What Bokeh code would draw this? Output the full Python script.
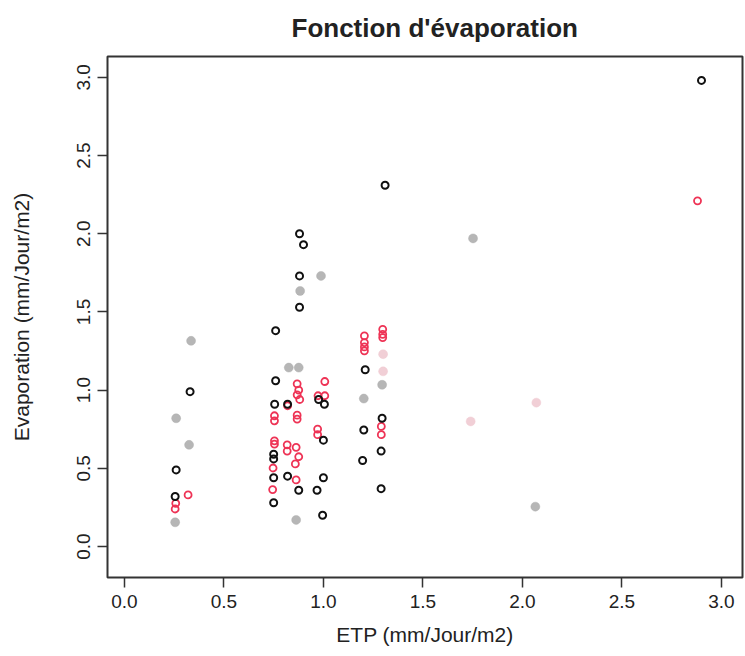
from bokeh.plotting import figure
from bokeh.models import Range1d, FixedTicker
from bokeh.embed import file_html
from bokeh.resources import INLINE

# ---- data ----
black_x = [0.33, 0.26, 0.255, 0.88, 0.90, 0.88, 0.88, 0.76, 0.76, 0.976, 1.005, 0.755,
           0.82, 1.00, 0.75, 0.75, 0.75, 0.82, 1.00, 0.876, 0.968, 0.75, 0.996,
           1.21, 1.295, 1.203, 1.29, 1.197, 1.29, 1.31, 2.90]
black_y = [0.99, 0.49, 0.32, 2.00, 1.93, 1.73, 1.53, 1.38, 1.06, 0.94, 0.91, 0.91,
           0.91, 0.68, 0.59, 0.56, 0.44, 0.45, 0.44, 0.36, 0.36, 0.28, 0.20,
           1.13, 0.82, 0.745, 0.61, 0.55, 0.37, 2.31, 2.98]

red_x = [0.32, 0.258, 0.255, 0.868, 0.876, 0.868, 0.881, 1.007, 0.973, 1.007, 0.82,
         0.868, 0.868, 0.754, 0.754, 0.971, 0.971, 0.754, 0.754, 0.818, 0.818, 0.863,
         0.876, 0.859, 0.747, 0.863, 0.745,
         1.206, 1.206, 1.206, 1.206, 1.298, 1.298, 1.298, 1.291, 1.291, 2.88]
red_y = [0.33, 0.276, 0.24, 1.04, 1.00, 0.97, 0.94, 1.055, 0.964, 0.964, 0.90,
         0.84, 0.815, 0.836, 0.804, 0.751, 0.715, 0.676, 0.655, 0.65, 0.61, 0.634,
         0.574, 0.528, 0.502, 0.426, 0.364,
         1.347, 1.304, 1.276, 1.251, 1.389, 1.357, 1.336, 0.768, 0.715, 2.21]

gray_x = [0.335, 0.26, 0.325, 0.255, 0.988, 0.883, 0.826, 0.876, 0.863, 1.295, 1.203, 1.752, 2.065]
gray_y = [1.315, 0.82, 0.65, 0.155, 1.73, 1.634, 1.144, 1.144, 0.17, 1.034, 0.946, 1.97, 0.255]

pink_x = [1.30, 1.30, 2.07, 1.74]
pink_y = [1.23, 1.12, 0.92, 0.80]

x_ticks = [0.0, 0.5, 1.0, 1.5, 2.0, 2.5, 3.0]
x_tick_labels = ["0.0", "0.5", "1.0", "1.5", "2.0", "2.5", "3.0"]
y_ticks = [0.0, 0.5, 1.0, 1.5, 2.0, 2.5, 3.0]
y_tick_labels = ["0.0", "0.5", "1.0", "1.5", "2.0", "2.5", "3.0"]

title_text = "Fonction d'évaporation"
x_label = "ETP (mm/Jour/m2)"
y_label = "Evaporation (mm/Jour/m2)"

FONT = "Liberation Sans"

p = figure(width=745, height=656, output_backend="svg", toolbar_location=None,
           x_range=Range1d(-0.085, 3.106), y_range=Range1d(-0.198, 3.133),
           min_border_left=107, min_border_right=3, min_border_top=55, min_border_bottom=79,
           background_fill_color="white", border_fill_color="white")

p.title.text = title_text
p.title.text_font = FONT
p.title.text_font_size = "26px"
p.title.text_font_style = "bold"
p.title.text_color = "#222222"
p.title.align = "left"
p.title.offset = 184
p.title.vertical_align = "top"
p.title.standoff = 24

p.grid.grid_line_color = None
p.outline_line_color = "#333333"
p.outline_line_width = 2

for ax, ticks, labels in ((p.xaxis, x_ticks, x_tick_labels), (p.yaxis, y_ticks, y_tick_labels)):
    ax.ticker = FixedTicker(ticks=ticks)
    ax.major_label_overrides = {t: l for t, l in zip(ticks, labels)}
    ax.axis_line_color = None
    ax.major_tick_in = 0
    ax.major_tick_out = 10
    ax.major_tick_line_color = "#333333"
    ax.major_tick_line_width = 1.5
    ax.minor_tick_line_color = None
    ax.major_label_text_font = FONT
    ax.major_label_text_font_size = "19px"
    ax.major_label_text_color = "#222222"
    ax.axis_label_text_font = FONT
    ax.axis_label_text_font_size = "21px"
    ax.axis_label_text_font_style = "normal"
    ax.axis_label_text_color = "#222222"

p.xaxis.axis_label = x_label
p.yaxis.axis_label = y_label
p.xaxis.major_label_standoff = 7
p.xaxis.axis_label_standoff = 12
p.yaxis.major_label_orientation = "vertical"
p.yaxis.major_label_standoff = 7
p.yaxis.axis_label_standoff = 42

# faded (scanned) points
p.scatter(gray_x, gray_y, marker="circle", size=9, fill_color="#7a7a7a", fill_alpha=0.55,
          line_color="#aaaaaa", line_alpha=0.4, line_width=1)
p.scatter(pink_x, pink_y, marker="circle", size=9, fill_color="#e3a0ad", fill_alpha=0.5,
          line_color="#f0c8d0", line_alpha=0.4, line_width=1)
# red open circles
p.scatter(red_x, red_y, marker="circle", size=7, fill_color=None,
          line_color="#ee3355", line_width=1.8)
# black open circles
p.scatter(black_x, black_y, marker="circle", size=7, fill_color=None,
          line_color="#111111", line_width=2)

open("out.html", "w").write(file_html(p, INLINE))
